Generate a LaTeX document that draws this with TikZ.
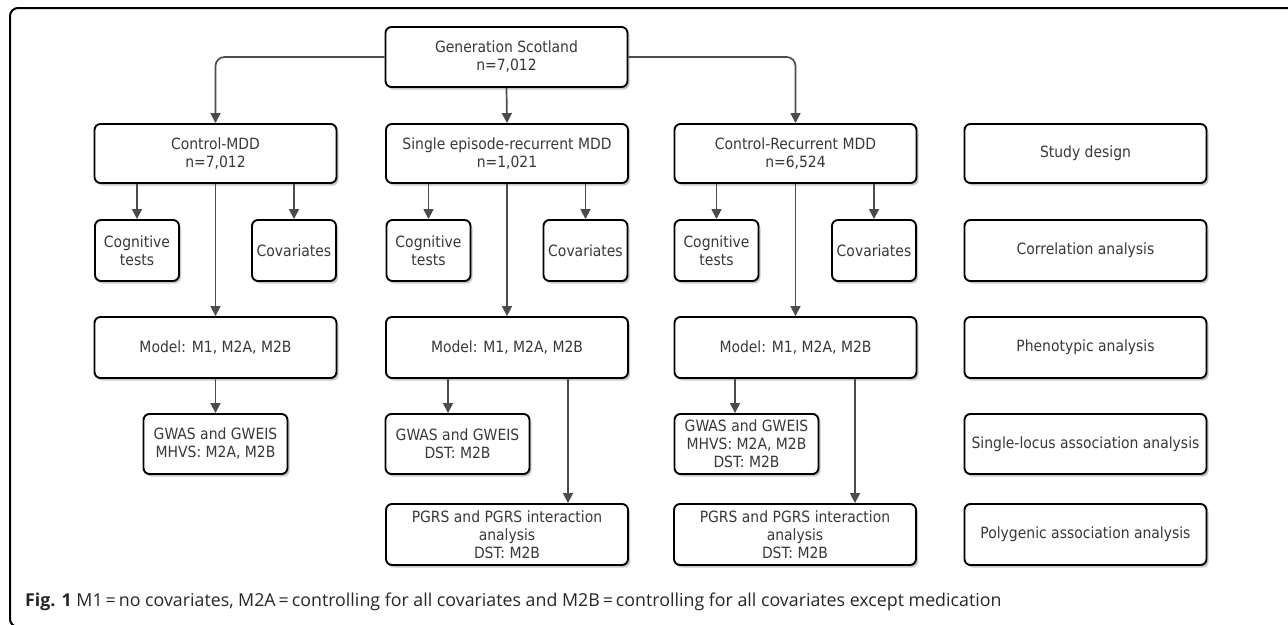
\documentclass[tikz,border=0pt]{standalone}
\usepackage{fontspec}
\setmainfont{DejaVu Sans Condensed}
\newfontfamily\capfont{Open Sans}
\usetikzlibrary{arrows.meta,shadows,calc}
\tikzset{
  box/.style={draw=black, line width=1.9pt, rounded corners=6pt, fill=white,
    align=center, inner sep=0pt, text=black!78,
    font=\fontsize{15.5}{18}\selectfont,
    drop shadow={shadow xshift=2pt, shadow yshift=-2.5pt, opacity=0.22, fill=black},
    minimum width=242pt, minimum height=60pt},
  small/.style={box, minimum width=84pt, minimum height=61pt},
  mid/.style={box, minimum width=144pt, minimum height=60pt},
  arr/.style={draw=black!70, line width=1.7pt, rounded corners=9pt,
    -{Triangle[width=10pt,length=10pt]}},
  frame/.style={draw=black, line width=2pt, rounded corners=8pt}
}
\begin{document}
\begin{tikzpicture}[x=1pt,y=-1pt]
\useasboundingbox (0,0) rectangle (1288,624);
\begin{scope}
\clip (0,0) rectangle (1288,624);
\draw[frame] (1310,8) -- (10,8) -- (10,627) -- (1310,627);
\end{scope}
% row 1
\node[box] (gs) at (506.5,57) {Generation Scotland\\n=7,012};
\node[box, minimum height=59pt] (cmdd) at (215.5,153.5) {Control-MDD\\n=7,012};
\node[box, minimum height=59pt] (se) at (507,153.5) {Single episode-recurrent MDD\\n=1,021};
\node[box, minimum height=59pt] (cr) at (795.5,153.5) {Control-Recurrent MDD\\n=6,524};
\node[box, minimum height=59pt] (sd) at (1085.5,153.5) {Study design};
% row 2
\node[small] (cog1) at (137,250.5) {Cognitive\\tests};
\node[small] (cov1) at (294,250.5) {Covariates};
\node[small] (cog2) at (428.5,250.5) {Cognitive\\tests};
\node[small] (cov2) at (585.5,250.5) {Covariates};
\node[small] (cog3) at (716.5,250.5) {Cognitive\\tests};
\node[small] (cov3) at (874,250.5) {Covariates};
\node[box, minimum height=61pt] (corr) at (1085.5,250.5) {Correlation analysis};
% row 3
\node[box, minimum height=61pt] (mod1) at (215.5,347.5) {Model: M1, M2A, M2B};
\node[box, minimum height=61pt] (mod2) at (507,347.5) {Model: M1, M2A, M2B};
\node[box, minimum height=61pt] (mod3) at (795.5,347.5) {Model: M1, M2A, M2B};
\node[box, minimum height=61pt] (phen) at (1085.5,347.5) {Phenotypic analysis};
% row 4
\node[mid] (gw1) at (215.5,444) {GWAS and GWEIS\\MHVS: M2A, M2B};
\node[mid] (gw2) at (457.5,444) {GWAS and GWEIS\\DST: M2B};
\node[mid] (gw3) at (746.5,444) {GWAS and GWEIS\\MHVS: M2A, M2B\\DST: M2B};
\node[box] (sl) at (1085.5,444) {Single-locus association analysis};
% row 5
\node[box, minimum height=61pt] (pg2) at (507,534.5) {PGRS and PGRS interaction\\analysis\\DST: M2B};
\node[box, minimum height=61pt] (pg3) at (795,534.5) {PGRS and PGRS interaction\\analysis\\DST: M2B};
\node[box, minimum height=61pt] (poly) at (1085.5,534.5) {Polygenic association analysis};
% connector anchor points
\coordinate (gw2in) at ([xshift=-9.5pt]gw2.north);
\coordinate (gw3in) at ([xshift=-11.5pt]gw3.north);
\coordinate (pg2in) at ([xshift=61pt]pg2.north);
\coordinate (pg3in) at ([xshift=60pt]pg3.north);
% connectors
\draw[arr] (gs.west) -| (cmdd.north);
\draw[arr] (gs.south) -- (se.north);
\draw[arr] (gs.east) -| (cr.north);
\draw[arr] (cog1.north |- cmdd.south) -- (cog1.north);
\draw[arr] (cov1.north |- cmdd.south) -- (cov1.north);
\draw[arr] (cmdd.south) -- (mod1.north);
\draw[arr] (cog2.north |- se.south) -- (cog2.north);
\draw[arr] (cov2.north |- se.south) -- (cov2.north);
\draw[arr] (se.south) -- (mod2.north);
\draw[arr] (cog3.north |- cr.south) -- (cog3.north);
\draw[arr] (cov3.north |- cr.south) -- (cov3.north);
\draw[arr] (cr.south) -- (mod3.north);
\draw[arr] (mod1.south) -- (gw1.north);
\draw[arr] (gw2in |- mod2.south) -- (gw2in);
\draw[arr] (pg2in |- mod2.south) -- (pg2in);
\draw[arr] (gw3in |- mod3.south) -- (gw3in);
\draw[arr] (pg3in |- mod3.south) -- (pg3in);
% caption
\node[anchor=base west, inner sep=0pt, font=\capfont\fontsize{17.8}{20}\selectfont, text=black!85] (cap) at (25,606)
  {\textbf{Fig. 1} M1\,=\,no covariates, M2A\,=\,controlling for all covariates and M2B\,=\,controlling for all covariates except medication};
\end{tikzpicture}
\end{document}
